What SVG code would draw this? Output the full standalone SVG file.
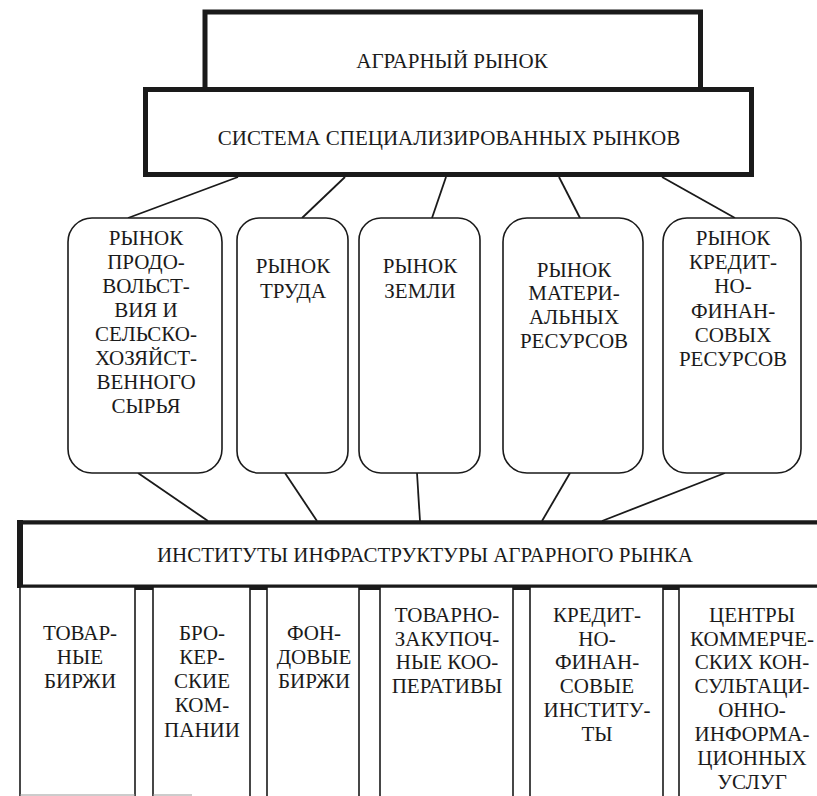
<svg xmlns="http://www.w3.org/2000/svg" width="817" height="796" viewBox="0 0 817 796">
<style>
text{font-family:"Liberation Serif","DejaVu Serif","Times New Roman",serif;font-size:21px;fill:#1a1a1a;text-anchor:middle}
.thick{fill:#fff;stroke:#1a1a1a;stroke-width:5}
.round{fill:#fff;stroke:#1a1a1a;stroke-width:1.6}
.col{fill:#fff;stroke:#1a1a1a;stroke-width:1.6}
.conn line{stroke:#1a1a1a;stroke-width:1.8}
</style>
<rect width="817" height="796" fill="#fff"/>
<g id="connectors" class="conn">
<line x1="238" y1="177" x2="128" y2="218"/>
<line x1="345" y1="177" x2="302" y2="218"/>
<line x1="446" y1="177" x2="432" y2="218"/>
<line x1="559" y1="177" x2="580" y2="218"/>
<line x1="662" y1="177" x2="735" y2="218"/>
<line x1="138" y1="473" x2="208" y2="521"/>
<line x1="285" y1="473" x2="317" y2="521"/>
<line x1="417" y1="473" x2="420" y2="521"/>
<line x1="570" y1="473" x2="542" y2="521"/>
<line x1="725" y1="473" x2="602" y2="521"/>
</g>
<g id="agrarian-market">
<rect class="thick" x="205" y="12" width="495.5" height="77.5"/>
<text x="452" y="68">АГРАРНЫЙ РЫНОК</text>
</g>
<g id="system">
<rect class="thick" x="145.5" y="89.5" width="606" height="85"/>
<text x="449" y="145">СИСТЕМА СПЕЦИАЛИЗИРОВАННЫХ РЫНКОВ</text>
</g>
<g id="market-food">
<rect class="round" x="68" y="218" width="154" height="255" rx="24"/>
<text x="146" y="245">РЫНОК</text>
<text x="146" y="269">ПРОДО-</text>
<text x="146" y="293">ВОЛЬСТ-</text>
<text x="146" y="317">ВИЯ И</text>
<text x="146" y="341">СЕЛЬСКО-</text>
<text x="146" y="365">ХОЗЯЙСТ-</text>
<text x="146" y="389">ВЕННОГО</text>
<text x="146" y="413">СЫРЬЯ</text>
</g>
<g id="market-labour">
<rect class="round" x="237" y="218" width="111" height="255" rx="22"/>
<text x="293" y="273">РЫНОК</text>
<text x="293" y="298">ТРУДА</text>
</g>
<g id="market-land">
<rect class="round" x="359" y="218" width="121" height="255" rx="22"/>
<text x="420" y="273">РЫНОК</text>
<text x="420" y="298">ЗЕМЛИ</text>
</g>
<g id="market-material">
<rect class="round" x="503" y="218" width="140" height="255" rx="24"/>
<text x="574" y="277">РЫНОК</text>
<text x="574" y="300">МАТЕРИ-</text>
<text x="574" y="324">АЛЬНЫХ</text>
<text x="574" y="348">РЕСУРСОВ</text>
</g>
<g id="market-credit">
<rect class="round" x="663" y="218" width="138" height="255" rx="24"/>
<text x="733" y="245">РЫНОК</text>
<text x="733" y="269">КРЕДИТ-</text>
<text x="733" y="293">НО-</text>
<text x="733" y="318">ФИНАН-</text>
<text x="733" y="342">СОВЫХ</text>
<text x="733" y="366">РЕСУРСОВ</text>
</g>
<g id="institutes">
<path d="M817 522 H20 V586 H817" fill="#fff" stroke="#1a1a1a" stroke-width="3"/>
<line x1="20" y1="520" x2="20" y2="588" stroke="#1a1a1a" stroke-width="6"/>
<line x1="17" y1="522.5" x2="817" y2="522.5" stroke="#1a1a1a" stroke-width="4"/>
<text x="425" y="562">ИНСТИТУТЫ ИНФРАСТРУКТУРЫ АГРАРНОГО РЫНКА</text>
<g fill="#1a1a1a">
<rect x="135" y="586" width="18" height="4"/>
<rect x="250" y="586" width="17" height="4"/>
<rect x="359" y="586" width="21" height="4"/>
<rect x="513" y="586" width="17" height="4"/>
<rect x="663" y="586" width="16" height="4"/>
</g>
</g>
<g id="commodity-exchanges">
<path class="col" d="M20 800 V587 H135 V800"/>
<line x1="20" y1="795" x2="135" y2="795" stroke="#999" stroke-width="1"/>
<text x="80" y="640">ТОВАР-</text>
<text x="80" y="664">НЫЕ</text>
<text x="80" y="688">БИРЖИ</text>
</g>
<g id="brokerage">
<path class="col" d="M153 800 V587 H250 V800"/>
<line x1="153" y1="795" x2="192" y2="795" stroke="#999" stroke-width="1"/>
<text x="202" y="640">БРО-</text>
<text x="202" y="664">КЕР-</text>
<text x="202" y="688">СКИЕ</text>
<text x="202" y="712">КОМ-</text>
<text x="202" y="737">ПАНИИ</text>
</g>
<g id="stock-exchanges">
<path class="col" d="M267 800 V587 H359 V800"/>
<text x="314" y="640">ФОН-</text>
<text x="314" y="664">ДОВЫЕ</text>
<text x="314" y="688">БИРЖИ</text>
</g>
<g id="cooperatives">
<path class="col" d="M380 800 V587 H513 V800" stroke="#555"/>
<text x="447" y="622">ТОВАРНО-</text>
<text x="447" y="646">ЗАКУПОЧ-</text>
<text x="447" y="669">НЫЕ КОО-</text>
<text x="447" y="693">ПЕРАТИВЫ</text>
</g>
<g id="credit-institutes">
<path class="col" d="M530 800 V587 H663 V800"/>
<text x="597" y="622">КРЕДИТ-</text>
<text x="597" y="646">НО-</text>
<text x="597" y="669">ФИНАН-</text>
<text x="597" y="693">СОВЫЕ</text>
<text x="597" y="717">ИНСТИТУ-</text>
<text x="597" y="741">ТЫ</text>
</g>
<g id="consulting-centres">
<path class="col" d="M679 800 V587 H820"/>
<text x="752" y="622">ЦЕНТРЫ</text>
<text x="752" y="646">КОММЕРЧЕ-</text>
<text x="752" y="669">СКИХ КОН-</text>
<text x="752" y="693">СУЛЬТАЦИ-</text>
<text x="752" y="717">ОННО-</text>
<text x="752" y="741">ИНФОРМА-</text>
<text x="752" y="765">ЦИОННЫХ</text>
<text x="752" y="789">УСЛУГ</text>
</g>
</svg>
